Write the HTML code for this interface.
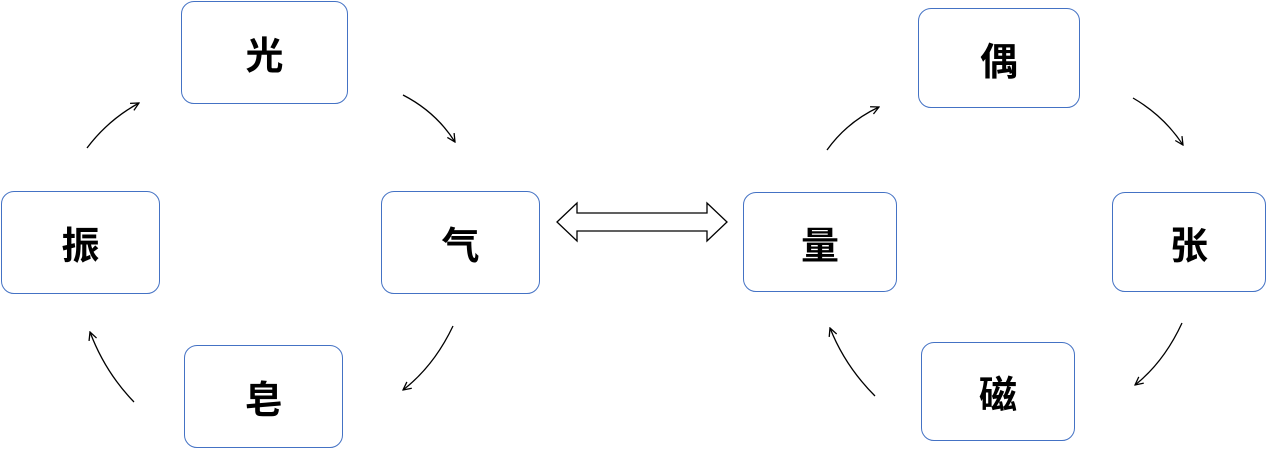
<!DOCTYPE html>
<html><head><meta charset="utf-8"><style>
body{margin:0;width:1267px;height:450px;background:#fff;overflow:hidden;position:relative;font-family:"Liberation Sans","Noto Sans CJK SC",sans-serif}
.b{position:absolute;box-sizing:border-box;border:1.3px solid #4472c4;border-radius:13px;background:#fff;display:flex;align-items:center;justify-content:center;font-size:38px;font-weight:bold;color:#000}
svg{position:absolute;left:0;top:0}
</style></head><body>
<div class="b" style="left:181px;top:1px;width:167px;height:103px">光</div>
<div class="b" style="left:1px;top:191px;width:159px;height:103px">振</div>
<div class="b" style="left:381px;top:191px;width:159px;height:103px">气</div>
<div class="b" style="left:184px;top:345px;width:159px;height:103px">皂</div>
<div class="b" style="left:918px;top:8px;width:162px;height:100px">偶</div>
<div class="b" style="left:743px;top:192px;width:154px;height:100px">量</div>
<div class="b" style="left:1112px;top:192px;width:154px;height:100px">张</div>
<div class="b" style="left:921px;top:342px;width:154px;height:99px">磁</div>
<svg width="1267" height="450">
<defs><marker id="a" markerWidth="10" markerHeight="10" refX="9" refY="5" orient="auto" markerUnits="userSpaceOnUse"><path d="M1,1 L9,5 L1,9" fill="none" stroke="#000" stroke-width="1.3"/></marker></defs>
<g fill="none" stroke="#000" stroke-width="1.3" marker-end="url(#a)">
<path d="M87,148 Q108,120 139,103"/>
<path d="M403,95 Q436,112 455,142"/>
<path d="M453,326 Q434,366 403,390"/>
<path d="M134,402 Q105,372 90,332"/>
<path d="M827,150 Q847,122 879,107"/>
<path d="M1133,98 Q1164,116 1183,145"/>
<path d="M1182,323 Q1164,362 1135,385"/>
<path d="M875,396 Q845,366 830,328"/>
</g>
<path d="M557,222 L577,203 L577,213 L707,213 L707,203 L727,222 L707,241 L707,231 L577,231 L577,241 Z" fill="#fff" stroke="#000" stroke-width="1.3"/>
</svg>
</body></html>
